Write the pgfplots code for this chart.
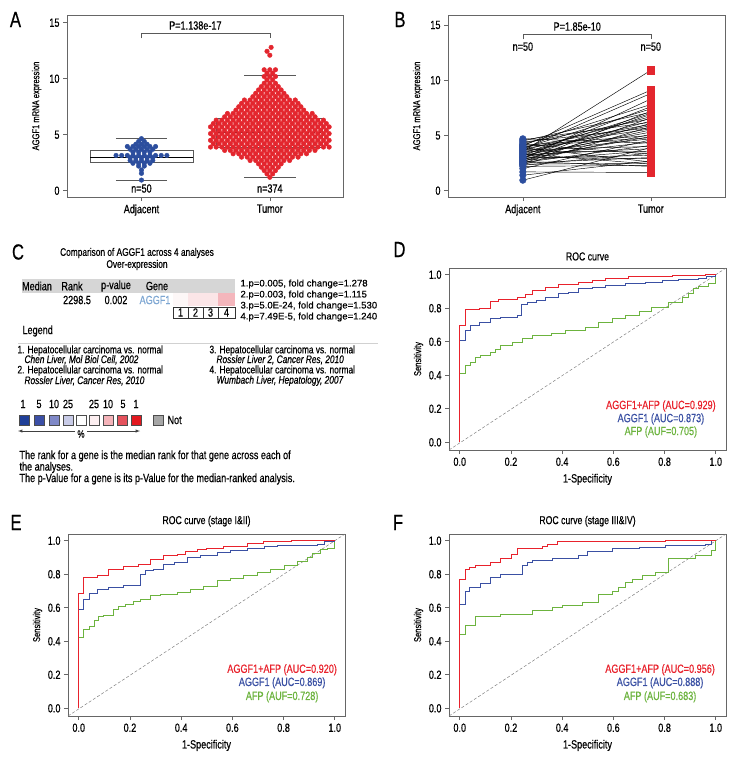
\documentclass[border=0pt]{standalone}
\usepackage{fontspec}
\setmainfont{Liberation Sans}[FakeStretch=0.76, FakeBold=0.5]
\newfontfamily\numfont{Liberation Sans}[FakeBold=0.4]
\usepackage{pgfplots}
\usepackage{pgfplotstable}
\pgfplotsset{compat=1.18}
\definecolor{sred}{HTML}{E3262E}
\definecolor{sblue}{HTML}{2C4E9E}
\definecolor{rred}{HTML}{E8222C}
\definecolor{rblue}{HTML}{3A50A3}
\definecolor{rgreen}{HTML}{6CB33E}
\definecolor{hdr}{HTML}{D6D6D6}
\definecolor{genec}{HTML}{7DA6D2}
\definecolor{q1}{HTML}{1F3F98}
\definecolor{q2}{HTML}{3B4FA6}
\definecolor{q3}{HTML}{7F88C7}
\definecolor{q4}{HTML}{C8CBE7}
\definecolor{q5}{HTML}{FFFFFF}
\definecolor{q6}{HTML}{FCEEF0}
\definecolor{q7}{HTML}{F4B3B9}
\definecolor{q8}{HTML}{E4525C}
\definecolor{q9}{HTML}{E3181F}
\definecolor{c1}{HTML}{FDF7F7}
\definecolor{c2}{HTML}{FBE5E7}
\definecolor{c4}{HTML}{F4B6BC}
\newcommand\fsz[1]{\fontsize{#1}{#1}\selectfont}

\pgfplotstableread{
adj tum
0.95 3.9
1.4 2.7
1.7 1.65
2.0 4.6
2.2 2.3
2.3 3.4
2.35 5.8
2.4 2.5
2.45 6.6
2.5 3.0
2.55 4.1
2.6 7.2
2.65 2.2
2.7 5.1
2.75 3.6
2.8 6.1
2.85 4.9
2.9 8.3
2.95 3.2
3.0 5.5
3.0 6.9
3.05 2.9
3.1 4.4
3.15 7.6
3.2 5.3
3.25 3.8
3.3 6.3
3.35 2.4
3.4 7.0
3.45 4.7
3.5 5.9
3.55 10.9
3.6 3.5
3.65 6.7
3.7 4.0
3.75 8.8
3.8 5.6
3.85 7.4
3.9 2.6
3.95 6.0
4.0 4.8
4.05 9.1
4.1 5.0
4.15 7.8
4.2 3.3
4.3 6.5
4.4 5.7
4.5 7.1
4.6 6.2
4.7 4.3
}\pairs

\pgfplotsset{
  panel/.style={scale only axis, clip=false,
    axis line style={draw=black!60, line width=0.6pt},
    every tick/.style={draw=black!60, line width=0.6pt},
    tick align=outside, major tick length=4bp,
    xtick pos=bottom, ytick pos=left,
    /pgf/number format/assume math mode=true,
    ticklabel style={font=\fsz{12}},
    label style={font=\fsz{12}},
    every axis y label/.style={at={(axis description cs:-0.11,0.5)}, rotate=90, anchor=center}},
  roc/.style={panel, width=277bp, height=182bp,
    xmin=-0.042, xmax=1.04, ymin=-0.046, ymax=1.04,
    xtick={0,0.2,0.4,0.6,0.8,1}, ytick={0,0.2,0.4,0.6,0.8,1},
    xticklabel style={/pgf/number format/.cd, fixed, fixed zerofill, precision=1},
    yticklabel style={/pgf/number format/.cd, fixed, fixed zerofill, precision=1},
    xlabel={1-Specificity}, ylabel={Sensitivity},
    xlabel style={yshift=-1bp},
    title style={font=\fsz{11.5}, yshift=-2bp}},
  rocline/.style={const plot, line width=0.9pt, no marks},
}

\begin{document}
\begin{tikzpicture}
\useasboundingbox (0,0) rectangle (744bp,-768bp);

% panel letters
\node[font=\fsz{22}] at (15.5bp,-19.5bp) {A};
\node[font=\fsz{22}] at (400bp,-19.5bp) {B};
\node[font=\fsz{22}] at (18bp,-252bp) {C};
\node[font=\fsz{22}] at (399.5bp,-249.5bp) {D};
\node[font=\fsz{22}] at (16bp,-522.5bp) {E};
\node[font=\fsz{22}] at (398bp,-522.5bp) {F};

% ---------------- A ----------------
\begin{axis}[panel, at={(67bp,-197bp)}, anchor=south west, width=276bp, height=182bp,
  xmin=-0.58, xmax=1.57, ymin=-0.56, ymax=15.69,
  xtick={0,1}, xticklabels={Adjacent,Tumor}, ytick={0,5,10,15},
  ylabel={AGGF1 mRNA expression}]
\addplot[only marks, mark=*, mark size=2.3bp, sblue, mark options={draw=sblue, fill=sblue}] coordinates {
(0,4.65)
(-0.022,4.4)(0.022,4.4)
(-0.044,4.15)(0,4.15)(0.044,4.15)
(-0.110,3.95)(-0.066,3.95)(-0.022,3.95)(0.022,3.95)(0.066,3.95)(0.110,3.95)
(-0.088,3.7)(-0.044,3.7)(0,3.7)(0.044,3.7)(0.088,3.7)
(-0.066,3.45)(-0.022,3.45)(0.022,3.45)(0.066,3.45)
(-0.198,3.15)(-0.154,3.15)(-0.110,3.15)(-0.066,3.15)(-0.022,3.15)(0.022,3.15)(0.066,3.15)(0.110,3.15)(0.154,3.15)(0.198,3.15)
(-0.088,2.95)(-0.044,2.95)(0,2.95)(0.044,2.95)(0.088,2.95)
(-0.088,2.7)(-0.044,2.7)(0,2.7)(0.044,2.7)(0.088,2.7)
(-0.066,2.45)(-0.022,2.45)(0.022,2.45)(0.066,2.45)
(-0.022,2.2)(0.022,2.2)
(0,1.85)
(0,1.55)
(0,0.95)
};
\addplot[only marks, mark=*, mark size=2.3bp, sred, mark options={draw=sred, fill=sred}] coordinates {
(1,1.2)
(0.978,1.5)(1.022,1.5)
(0.956,1.8)(1,1.8)(1.044,1.8)
(0.934,2.1)(0.978,2.1)(1.022,2.1)(1.066,2.1)
(0.912,2.4)(0.956,2.4)(1,2.4)(1.044,2.4)(1.088,2.4)
(0.846,2.7)(0.890,2.7)(0.934,2.7)(0.978,2.7)(1.022,2.7)(1.066,2.7)(1.110,2.7)(1.154,2.7)
(0.780,3)(0.824,3)(0.868,3)(0.912,3)(0.956,3)(1,3)(1.044,3)(1.088,3)(1.132,3)(1.176,3)(1.220,3)
(0.714,3.3)(0.758,3.3)(0.802,3.3)(0.846,3.3)(0.890,3.3)(0.934,3.3)(0.978,3.3)(1.022,3.3)(1.066,3.3)(1.110,3.3)(1.154,3.3)(1.198,3.3)(1.242,3.3)(1.286,3.3)
(0.648,3.6)(0.692,3.6)(0.736,3.6)(0.780,3.6)(0.824,3.6)(0.868,3.6)(0.912,3.6)(0.956,3.6)(1,3.6)(1.044,3.6)(1.088,3.6)(1.132,3.6)(1.176,3.6)(1.220,3.6)(1.264,3.6)(1.308,3.6)(1.352,3.6)
(0.538,3.9)(0.582,3.9)(0.626,3.9)(0.670,3.9)(0.714,3.9)(0.758,3.9)(0.802,3.9)(0.846,3.9)(0.890,3.9)(0.934,3.9)(0.978,3.9)(1.022,3.9)(1.066,3.9)(1.110,3.9)(1.154,3.9)(1.198,3.9)(1.242,3.9)(1.286,3.9)(1.330,3.9)(1.374,3.9)(1.418,3.9)(1.462,3.9)
(0.560,4.2)(0.604,4.2)(0.648,4.2)(0.692,4.2)(0.736,4.2)(0.780,4.2)(0.824,4.2)(0.868,4.2)(0.912,4.2)(0.956,4.2)(1,4.2)(1.044,4.2)(1.088,4.2)(1.132,4.2)(1.176,4.2)(1.220,4.2)(1.264,4.2)(1.308,4.2)(1.352,4.2)(1.396,4.2)(1.440,4.2)
(0.538,4.5)(0.582,4.5)(0.626,4.5)(0.670,4.5)(0.714,4.5)(0.758,4.5)(0.802,4.5)(0.846,4.5)(0.890,4.5)(0.934,4.5)(0.978,4.5)(1.022,4.5)(1.066,4.5)(1.110,4.5)(1.154,4.5)(1.198,4.5)(1.242,4.5)(1.286,4.5)(1.330,4.5)(1.374,4.5)(1.418,4.5)(1.462,4.5)
(0.560,4.8)(0.604,4.8)(0.648,4.8)(0.692,4.8)(0.736,4.8)(0.780,4.8)(0.824,4.8)(0.868,4.8)(0.912,4.8)(0.956,4.8)(1,4.8)(1.044,4.8)(1.088,4.8)(1.132,4.8)(1.176,4.8)(1.220,4.8)(1.264,4.8)(1.308,4.8)(1.352,4.8)(1.396,4.8)(1.440,4.8)
(0.538,5.1)(0.582,5.1)(0.626,5.1)(0.670,5.1)(0.714,5.1)(0.758,5.1)(0.802,5.1)(0.846,5.1)(0.890,5.1)(0.934,5.1)(0.978,5.1)(1.022,5.1)(1.066,5.1)(1.110,5.1)(1.154,5.1)(1.198,5.1)(1.242,5.1)(1.286,5.1)(1.330,5.1)(1.374,5.1)(1.418,5.1)(1.462,5.1)
(0.560,5.4)(0.604,5.4)(0.648,5.4)(0.692,5.4)(0.736,5.4)(0.780,5.4)(0.824,5.4)(0.868,5.4)(0.912,5.4)(0.956,5.4)(1,5.4)(1.044,5.4)(1.088,5.4)(1.132,5.4)(1.176,5.4)(1.220,5.4)(1.264,5.4)(1.308,5.4)(1.352,5.4)(1.396,5.4)(1.440,5.4)
(0.538,5.7)(0.582,5.7)(0.626,5.7)(0.670,5.7)(0.714,5.7)(0.758,5.7)(0.802,5.7)(0.846,5.7)(0.890,5.7)(0.934,5.7)(0.978,5.7)(1.022,5.7)(1.066,5.7)(1.110,5.7)(1.154,5.7)(1.198,5.7)(1.242,5.7)(1.286,5.7)(1.330,5.7)(1.374,5.7)(1.418,5.7)(1.462,5.7)
(0.560,6)(0.604,6)(0.648,6)(0.692,6)(0.736,6)(0.780,6)(0.824,6)(0.868,6)(0.912,6)(0.956,6)(1,6)(1.044,6)(1.088,6)(1.132,6)(1.176,6)(1.220,6)(1.264,6)(1.308,6)(1.352,6)(1.396,6)(1.440,6)
(0.582,6.3)(0.626,6.3)(0.670,6.3)(0.714,6.3)(0.758,6.3)(0.802,6.3)(0.846,6.3)(0.890,6.3)(0.934,6.3)(0.978,6.3)(1.022,6.3)(1.066,6.3)(1.110,6.3)(1.154,6.3)(1.198,6.3)(1.242,6.3)(1.286,6.3)(1.330,6.3)(1.374,6.3)(1.418,6.3)
(0.648,6.6)(0.692,6.6)(0.736,6.6)(0.780,6.6)(0.824,6.6)(0.868,6.6)(0.912,6.6)(0.956,6.6)(1,6.6)(1.044,6.6)(1.088,6.6)(1.132,6.6)(1.176,6.6)(1.220,6.6)(1.264,6.6)(1.308,6.6)(1.352,6.6)
(0.670,6.9)(0.714,6.9)(0.758,6.9)(0.802,6.9)(0.846,6.9)(0.890,6.9)(0.934,6.9)(0.978,6.9)(1.022,6.9)(1.066,6.9)(1.110,6.9)(1.154,6.9)(1.198,6.9)(1.242,6.9)(1.286,6.9)(1.330,6.9)
(0.736,7.2)(0.780,7.2)(0.824,7.2)(0.868,7.2)(0.912,7.2)(0.956,7.2)(1,7.2)(1.044,7.2)(1.088,7.2)(1.132,7.2)(1.176,7.2)(1.220,7.2)(1.264,7.2)
(0.758,7.5)(0.802,7.5)(0.846,7.5)(0.890,7.5)(0.934,7.5)(0.978,7.5)(1.022,7.5)(1.066,7.5)(1.110,7.5)(1.154,7.5)(1.198,7.5)(1.242,7.5)
(0.780,7.8)(0.824,7.8)(0.868,7.8)(0.912,7.8)(0.956,7.8)(1,7.8)(1.044,7.8)(1.088,7.8)(1.132,7.8)(1.176,7.8)(1.220,7.8)
(0.802,8.1)(0.846,8.1)(0.890,8.1)(0.934,8.1)(0.978,8.1)(1.022,8.1)(1.066,8.1)(1.110,8.1)(1.154,8.1)(1.198,8.1)
(0.868,8.4)(0.912,8.4)(0.956,8.4)(1,8.4)(1.044,8.4)(1.088,8.4)(1.132,8.4)
(0.890,8.7)(0.934,8.7)(0.978,8.7)(1.022,8.7)(1.066,8.7)(1.110,8.7)
(0.912,9)(0.956,9)(1,9)(1.044,9)(1.088,9)
(0.934,9.3)(0.978,9.3)(1.022,9.3)(1.066,9.3)
(0.956,9.6)(1,9.6)(1.044,9.6)
(0.978,9.9)(1.022,9.9)
(0.956,10.2)(1,10.2)(1.044,10.2)
(0.978,10.5)(1.022,10.5)
(0.956,10.8)(1,10.8)(1.044,10.8)
(1,12.1)(0.978,12.45)(1.01,12.8)
};
% boxes
\addplot[black!65, line width=0.6pt] coordinates {(-0.4,2.53)(0.4,2.53)(0.4,3.63)(-0.4,3.63)(-0.4,2.53)};
\addplot[black, line width=1.4pt] coordinates {(-0.4,2.98)(0.4,2.98)};
\addplot[black!65, line width=0.6pt] coordinates {(-0.2,4.68)(0.2,4.68)};
\addplot[black!65, line width=0.6pt] coordinates {(-0.2,0.96)(0.2,0.96)};
\addplot[black!65, line width=0.6pt] coordinates {(0.585,3.87)(1.405,3.87)(1.405,6.46)(0.585,6.46)(0.585,3.87)};
\addplot[black, dashed, line width=0.9pt] coordinates {(0.585,5.21)(1.405,5.21)};
\addplot[black!65, line width=0.6pt] coordinates {(0.8,10.33)(1.2,10.33)};
\addplot[black!65, line width=0.6pt] coordinates {(0.8,1.19)(1.2,1.19)};
\addplot[black!65, line width=0.6pt] coordinates {(0,13.6)(0,14.1)(1,14.1)(1,13.6)};
\node[font=\fsz{12}] at (axis cs:0.42,14.75) {P=1.138e-17};
\node[font=\fsz{12}] at (axis cs:0,0.2) {n=50};
\node[font=\fsz{12}] at (axis cs:1,0.2) {n=374};
\end{axis}

% ---------------- B ----------------
\begin{axis}[panel, at={(448bp,-197bp)}, anchor=south west, width=277bp, height=182bp,
  xmin=-0.585, xmax=1.58, ymin=-0.57, ymax=15.9,
  xtick={0,1}, xticklabels={Adjacent,Tumor}, ytick={0,5,10,15},
  ylabel={AGGF1 mRNA expression}]
\addplot[only marks, mark=*, mark size=3.3bp, sblue, mark options={draw=sblue, fill=sblue}] table[x expr=0, y=adj] {\pairs};
\addplot[only marks, mark=square*, mark size=3.6bp, sred, mark options={draw=sred, fill=sred}] table[x expr=1, y=tum] {\pairs};
\addplot[black, line width=0.45pt, quiver={u=1, v=\thisrow{tum}-\thisrow{adj}}] table[x expr=0, y=adj] {\pairs};
\addplot[black!65, line width=0.6pt] coordinates {(0,13.7)(0,14.19)(1,14.19)(1,13.7)};
\node[font=\fsz{12}] at (axis cs:0.425,14.85) {P=1.85e-10};
\node[font=\fsz{12}] at (axis cs:0,13.04) {n=50};
\node[font=\fsz{12}] at (axis cs:1,13.04) {n=50};
\end{axis}

% ---------------- C ----------------
\begin{scope}[font=\fsz{12}]
\node[font=\fsz{11}] at (137bp,-253bp) {Comparison of AGGF1 across 4 analyses};
\node[font=\fsz{11}] at (137bp,-265bp) {Over-expression};
\fill[hdr] (22bp,-279bp) rectangle (235bp,-293bp);
\node at (37bp,-286bp) {Median};
\node at (72bp,-286bp) {Rank};
\node at (116bp,-286bp) {p-value};
\node at (157bp,-286bp) {Gene};
\node at (77bp,-300bp) {2298.5};
\node at (116bp,-300bp) {0.002};
\node[text=genec] at (155bp,-300bp) {AGGF1};
\fill[c1] (173bp,-293bp) rectangle (188bp,-306bp);
\fill[c2] (188bp,-293bp) rectangle (203bp,-306bp);
\fill[c2] (203bp,-293bp) rectangle (218bp,-306bp);
\fill[c4] (218bp,-293bp) rectangle (235bp,-306bp);
\draw[black!80, line width=0.6pt] (173bp,-307bp) rectangle (188bp,-318bp);
\draw[black!80, line width=0.6pt] (188bp,-307bp) rectangle (203bp,-318bp);
\draw[black!80, line width=0.6pt] (203bp,-307bp) rectangle (218bp,-318bp);
\draw[black!80, line width=0.6pt] (218bp,-307bp) rectangle (235bp,-318bp);
\node at (180.5bp,-312.5bp) {1};
\node at (195.5bp,-312.5bp) {2};
\node at (210.5bp,-312.5bp) {3};
\node at (226.5bp,-312.5bp) {4};
\node[anchor=west, font=\numfont\fsz{9.6}] at (237bp,-284bp) {1.p=0.005, fold change=1.278};
\node[anchor=west, font=\numfont\fsz{9.6}] at (237bp,-295bp) {2.p=0.003, fold change=1.115};
\node[anchor=west, font=\numfont\fsz{9.6}] at (237bp,-306bp) {3.p=5.0E-24, fold change=1.530};
\node[anchor=west, font=\numfont\fsz{9.6}] at (237bp,-317bp) {4.p=7.49E-5, fold change=1.240};
\node[anchor=west] at (19bp,-331bp) {Legend};
\draw[black!18, line width=0.8pt] (18bp,-343bp) -- (378bp,-343bp);
\node[anchor=west, font=\fsz{11}] at (14bp,-350.5bp) {1. Hepatocellular carcinoma vs. normal};
\node[anchor=west, font=\fsz{11}] at (21bp,-359.8bp) {\itshape Chen Liver, Mol Biol Cell, 2002};
\node[anchor=west, font=\fsz{11}] at (14bp,-370.6bp) {2. Hepatocellular carcinoma vs. normal};
\node[anchor=west, font=\fsz{11}] at (21bp,-380.8bp) {\itshape Rossler Liver, Cancer Res, 2010};
\node[anchor=west, font=\fsz{11}] at (206bp,-350.5bp) {3. Hepatocellular carcinoma vs. normal};
\node[anchor=west, font=\fsz{11}] at (213bp,-359.8bp) {\itshape Rossler Liver 2, Cancer Res, 2010};
\node[anchor=west, font=\fsz{11}] at (206bp,-370.6bp) {4. Hepatocellular carcinoma vs. normal};
\node[anchor=west, font=\fsz{11}] at (213bp,-380.8bp) {\itshape Wumbach Liver, Hepatology, 2007};
\node at (23bp,-404bp) {1};
\node at (39bp,-404bp) {5};
\node at (54bp,-404bp) {10};
\node at (68bp,-404bp) {25};
\node at (94bp,-404bp) {25};
\node at (108bp,-404bp) {10};
\node at (123bp,-404bp) {5};
\node at (136bp,-404bp) {1};
\foreach \cx/\cc in {24/q1,39/q2,54/q3,68/q4,81/q5,94/q6,108/q7,122/q8,136/q9}{
  \filldraw[fill=\cc, draw=black!70, line width=0.5pt] (\cx bp-5bp,-415bp) rectangle (\cx bp+5bp,-425bp);
}
\filldraw[fill=black!35, draw=black!70, line width=0.5pt] (153bp,-415bp) rectangle (163bp,-425bp);
\node[anchor=west] at (164bp,-420bp) {Not};
\draw[-latex, black!75, line width=0.5pt] (75bp,-431bp) -- (18bp,-431bp);
\draw[-latex, black!75, line width=0.5pt] (87bp,-431bp) -- (140bp,-431bp);
\node[font=\fsz{10.5}] at (81bp,-434bp) {\%};
\node[anchor=west] at (16bp,-456bp) {The rank for a gene is the median rank for that gene across each of};
\node[anchor=west] at (16bp,-467.5bp) {the analyses.};
\node[anchor=west] at (16bp,-479bp) {The p-Value for a gene is its p-Value for the median-ranked analysis.};
\end{scope}

% ---------------- D ----------------
\begin{axis}[roc, at={(449bp,-450bp)}, anchor=south west, title={ROC curve}]
\addplot[gray, densely dashed, line width=0.5pt] coordinates {(-0.042,-0.046)(1.04,1.04)};
\addplot[rocline, rgreen] coordinates {(0,0)(0,0.412)(0.021,0.458)(0.043,0.478)(0.062,0.508)(0.082,0.518)(0.12,0.538)(0.14,0.554)(0.16,0.578)(0.205,0.598)(0.244,0.62)(0.283,0.64)(0.36,0.651)(0.413,0.667)(0.49,0.683)(0.543,0.717)(0.595,0.737)(0.647,0.757)(0.70,0.781)(0.75,0.807)(0.816,0.837)(0.868,0.867)(0.894,0.886)(0.913,0.916)(0.932,0.932)(0.971,0.946)(1,1)};
\addplot[rocline, rblue] coordinates {(0,0)(0,0.608)(0.021,0.667)(0.043,0.697)(0.075,0.717)(0.12,0.737)(0.16,0.747)(0.225,0.757)(0.242,0.82)(0.264,0.837)(0.3,0.845)(0.335,0.867)(0.387,0.886)(0.426,0.896)(0.465,0.916)(0.517,0.926)(0.569,0.936)(0.647,0.946)(0.725,0.956)(0.79,0.966)(0.855,0.972)(0.932,0.98)(0.965,0.992)(1,1)};
\addplot[rocline, rred] coordinates {(0,0)(0,0.697)(0.021,0.793)(0.075,0.80)(0.12,0.84)(0.153,0.853)(0.225,0.867)(0.257,0.88)(0.283,0.906)(0.335,0.926)(0.387,0.94)(0.465,0.956)(0.517,0.966)(0.569,0.976)(0.66,0.988)(0.83,0.996)(0.958,1)(1,1)};
\node[text=rred, font=\fsz{12}] at (axis description cs:0.765,0.242) {AGGF1+AFP (AUC=0.929)};
\node[text=rblue, font=\fsz{12}] at (axis description cs:0.765,0.17) {AGGF1 (AUC=0.873)};
\node[text=rgreen, font=\fsz{12}] at (axis description cs:0.765,0.099) {AFP (AUF=0.705)};
\end{axis}

% ---------------- E ----------------
\begin{axis}[roc, at={(68bp,-716bp)}, anchor=south west, title={ROC curve (stage I\&II)}]
\addplot[gray, densely dashed, line width=0.5pt] coordinates {(-0.042,-0.046)(1.04,1.04)};
\addplot[rocline, rgreen] coordinates {(0,0)(0,0.422)(0.02,0.472)(0.04,0.488)(0.061,0.522)(0.078,0.548)(0.098,0.556)(0.137,0.592)(0.156,0.608)(0.183,0.622)(0.215,0.635)(0.241,0.651)(0.28,0.671)(0.32,0.681)(0.385,0.691)(0.437,0.711)(0.489,0.727)(0.541,0.761)(0.593,0.775)(0.645,0.79)(0.698,0.81)(0.75,0.83)(0.802,0.855)(0.854,0.875)(0.893,0.90)(0.913,0.926)(0.945,0.946)(0.971,0.954)(1,1)};
\addplot[rocline, rblue] coordinates {(0,0)(0,0.592)(0.02,0.647)(0.04,0.687)(0.072,0.707)(0.117,0.721)(0.176,0.731)(0.241,0.80)(0.26,0.82)(0.293,0.83)(0.332,0.86)(0.372,0.87)(0.424,0.90)(0.476,0.914)(0.541,0.93)(0.593,0.94)(0.658,0.954)(0.724,0.966)(0.776,0.974)(0.932,0.98)(0.958,0.994)(1,1)};
\addplot[rocline, rred] coordinates {(0,0)(0,0.687)(0.02,0.781)(0.072,0.79)(0.117,0.83)(0.176,0.845)(0.235,0.857)(0.28,0.89)(0.33,0.91)(0.385,0.92)(0.417,0.934)(0.463,0.946)(0.5,0.954)(0.567,0.966)(0.658,0.986)(0.72,0.994)(0.83,1)(1,1)};
\node[text=rred, font=\fsz{12}] at (axis description cs:0.773,0.254) {AGGF1+AFP (AUC=0.920)};
\node[text=rblue, font=\fsz{12}] at (axis description cs:0.773,0.182) {AGGF1 (AUC=0.869)};
\node[text=rgreen, font=\fsz{12}] at (axis description cs:0.773,0.105) {AFP (AUF=0.728)};
\end{axis}

% ---------------- F ----------------
\begin{axis}[roc, at={(449bp,-716bp)}, anchor=south west, title={ROC curve (stage III\&IV)}]
\addplot[gray, densely dashed, line width=0.5pt] coordinates {(-0.042,-0.046)(1.04,1.04)};
\addplot[rocline, rgreen] coordinates {(0,0)(0,0.442)(0.021,0.492)(0.062,0.548)(0.16,0.562)(0.283,0.582)(0.361,0.60)(0.40,0.616)(0.478,0.631)(0.543,0.681)(0.595,0.70)(0.62,0.721)(0.647,0.751)(0.673,0.77)(0.712,0.79)(0.764,0.81)(0.816,0.896)(0.92,0.912)(0.984,0.94)(1,1)};
\addplot[rocline, rblue] coordinates {(0,0)(0,0.62)(0.021,0.70)(0.039,0.72)(0.082,0.746)(0.12,0.78)(0.16,0.80)(0.244,0.853)(0.264,0.873)(0.283,0.883)(0.361,0.896)(0.465,0.912)(0.497,0.936)(0.595,0.954)(0.70,0.96)(0.803,0.97)(0.958,0.98)(0.984,1)(1,1)};
\addplot[rocline, rred] coordinates {(0,0)(0,0.771)(0.021,0.827)(0.039,0.843)(0.062,0.853)(0.12,0.873)(0.16,0.896)(0.2,0.916)(0.225,0.952)(0.322,0.968)(0.342,0.98)(0.38,0.994)(0.803,1)(1,1)};
\node[text=rred, font=\fsz{12}] at (axis description cs:0.762,0.254) {AGGF1+AFP (AUC=0.956)};
\node[text=rblue, font=\fsz{12}] at (axis description cs:0.762,0.182) {AGGF1 (AUC=0.888)};
\node[text=rgreen, font=\fsz{12}] at (axis description cs:0.762,0.105) {AFP (AUF=0.683)};
\end{axis}
\end{tikzpicture}
\end{document}
